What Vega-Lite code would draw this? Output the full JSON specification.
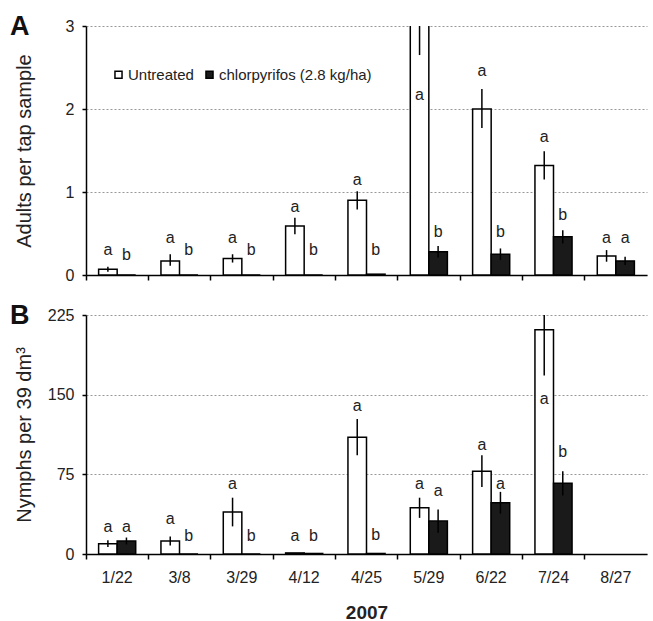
{
  "$schema": "https://vega.github.io/schema/vega-lite/v6.json",
  "padding": {"left": 10, "top": 13, "right": 6, "bottom": 4},
  "config": {
    "font": "Liberation Sans",
    "view": {"stroke": null},
    "concat": {"spacing": 19},
    "axis": {
      "domainColor": "black", "domainWidth": 1.5, "tickColor": "black", "tickWidth": 1.5,
      "labelColor": "#222", "titleColor": "#222", "labelFont": "Liberation Sans", "titleFont": "Liberation Sans"
    }
  },
  "resolve": {"legend": {"fill": "independent"}, "scale": {"y": "independent"}},
  "datasets": {
    "adults": [
      {"date": "1/22", "trt": "Untreated", "mean": 0.07, "lo": 0.04, "hi": 0.10, "letter": "a", "ly": 0.30},
      {"date": "1/22", "trt": "chlorpyrifos (2.8 kg/ha)", "mean": 0, "lo": 0, "hi": 0, "letter": "b", "ly": 0.24},
      {"date": "3/8", "trt": "Untreated", "mean": 0.17, "lo": 0.11, "hi": 0.25, "letter": "a", "ly": 0.45},
      {"date": "3/8", "trt": "chlorpyrifos (2.8 kg/ha)", "mean": 0, "lo": 0, "hi": 0, "letter": "b", "ly": 0.30},
      {"date": "3/29", "trt": "Untreated", "mean": 0.20, "lo": 0.15, "hi": 0.25, "letter": "a", "ly": 0.45},
      {"date": "3/29", "trt": "chlorpyrifos (2.8 kg/ha)", "mean": 0, "lo": 0, "hi": 0, "letter": "b", "ly": 0.30},
      {"date": "4/12", "trt": "Untreated", "mean": 0.59, "lo": 0.49, "hi": 0.69, "letter": "a", "ly": 0.82},
      {"date": "4/12", "trt": "chlorpyrifos (2.8 kg/ha)", "mean": 0, "lo": 0, "hi": 0, "letter": "b", "ly": 0.30},
      {"date": "4/25", "trt": "Untreated", "mean": 0.90, "lo": 0.79, "hi": 1.01, "letter": "a", "ly": 1.15},
      {"date": "4/25", "trt": "chlorpyrifos (2.8 kg/ha)", "mean": 0.01, "lo": 0.01, "hi": 0.01, "letter": "b", "ly": 0.30},
      {"date": "5/29", "trt": "Untreated", "mean": 3.6, "lo": 2.65, "hi": 4.55, "letter": "a", "ly": 2.17},
      {"date": "5/29", "trt": "chlorpyrifos (2.8 kg/ha)", "mean": 0.28, "lo": 0.21, "hi": 0.35, "letter": "b", "ly": 0.52},
      {"date": "6/22", "trt": "Untreated", "mean": 2.0, "lo": 1.77, "hi": 2.24, "letter": "a", "ly": 2.46},
      {"date": "6/22", "trt": "chlorpyrifos (2.8 kg/ha)", "mean": 0.25, "lo": 0.18, "hi": 0.32, "letter": "b", "ly": 0.52},
      {"date": "7/24", "trt": "Untreated", "mean": 1.32, "lo": 1.15, "hi": 1.49, "letter": "a", "ly": 1.66},
      {"date": "7/24", "trt": "chlorpyrifos (2.8 kg/ha)", "mean": 0.46, "lo": 0.38, "hi": 0.54, "letter": "b", "ly": 0.72},
      {"date": "8/27", "trt": "Untreated", "mean": 0.23, "lo": 0.16, "hi": 0.30, "letter": "a", "ly": 0.44},
      {"date": "8/27", "trt": "chlorpyrifos (2.8 kg/ha)", "mean": 0.17, "lo": 0.12, "hi": 0.22, "letter": "a", "ly": 0.44}
    ],
    "nymphs": [
      {"date": "1/22", "trt": "Untreated", "mean": 9.7, "lo": 6.5, "hi": 13, "letter": "a", "ly": 25.7},
      {"date": "1/22", "trt": "chlorpyrifos (2.8 kg/ha)", "mean": 12.2, "lo": 9, "hi": 15.5, "letter": "a", "ly": 25.7},
      {"date": "3/8", "trt": "Untreated", "mean": 12.2, "lo": 8, "hi": 16.5, "letter": "a", "ly": 33},
      {"date": "3/8", "trt": "chlorpyrifos (2.8 kg/ha)", "mean": 0, "lo": 0, "hi": 0, "letter": "b", "ly": 17},
      {"date": "3/29", "trt": "Untreated", "mean": 39.5, "lo": 26, "hi": 53, "letter": "a", "ly": 66},
      {"date": "3/29", "trt": "chlorpyrifos (2.8 kg/ha)", "mean": 0, "lo": 0, "hi": 0, "letter": "b", "ly": 17},
      {"date": "4/12", "trt": "Untreated", "mean": 1.0, "lo": 1.0, "hi": 1.0, "letter": "a", "ly": 17},
      {"date": "4/12", "trt": "chlorpyrifos (2.8 kg/ha)", "mean": 0.5, "lo": 0.5, "hi": 0.5, "letter": "b", "ly": 17},
      {"date": "4/25", "trt": "Untreated", "mean": 110, "lo": 93, "hi": 127, "letter": "a", "ly": 139},
      {"date": "4/25", "trt": "chlorpyrifos (2.8 kg/ha)", "mean": 0.5, "lo": 0.5, "hi": 0.5, "letter": "b", "ly": 17.6},
      {"date": "5/29", "trt": "Untreated", "mean": 43.6, "lo": 34, "hi": 53, "letter": "a", "ly": 66},
      {"date": "5/29", "trt": "chlorpyrifos (2.8 kg/ha)", "mean": 31, "lo": 20, "hi": 42, "letter": "a", "ly": 59},
      {"date": "6/22", "trt": "Untreated", "mean": 78, "lo": 63, "hi": 93, "letter": "a", "ly": 103},
      {"date": "6/22", "trt": "chlorpyrifos (2.8 kg/ha)", "mean": 48.3, "lo": 38, "hi": 58.5, "letter": "a", "ly": 66},
      {"date": "7/24", "trt": "Untreated", "mean": 211, "lo": 168, "hi": 254, "letter": "a", "ly": 146},
      {"date": "7/24", "trt": "chlorpyrifos (2.8 kg/ha)", "mean": 66.6, "lo": 55, "hi": 78, "letter": "b", "ly": 96}
    ]
  },
  "vconcat": [
    {
      "width": 561,
      "height": 249,
      "title": {"text": "A", "anchor": "start", "frame": "group", "fontSize": 27, "fontWeight": "bold", "color": "#111", "dx": -76, "offset": -11, "dy": 12},
      "data": {"name": "adults"},
      "encoding": {
        "x": {"field": "date", "type": "nominal",
          "scale": {"domain": ["1/22", "3/8", "3/29", "4/12", "4/25", "5/29", "6/22", "7/24", "8/27"], "paddingInner": 0, "paddingOuter": 0},
          "axis": {"title": null, "labels": false, "bandPosition": 0, "tickSize": 5, "grid": false}},
        "xOffset": {"field": "trt", "type": "nominal", "sort": ["Untreated", "chlorpyrifos (2.8 kg/ha)"],
          "scale": {"domain": ["Untreated", "chlorpyrifos (2.8 kg/ha)"], "paddingOuter": 0.68, "paddingInner": 0}}
      },
      "layer": [
        {
          "mark": {"type": "bar", "clip": true, "stroke": "black", "strokeWidth": 1.5},
          "encoding": {
            "y": {"field": "mean", "type": "quantitative",
              "scale": {"domain": [0, 3], "nice": false},
              "axis": {"title": "Adults per tap sample", "values": [0, 1, 2, 3], "format": "d", "tickSize": 4, "labelPadding": 8, "labelFontSize": 16, "titleFontSize": 20, "titleFontWeight": "normal", "titlePadding": 31, "grid": true, "gridDash": [2, 2], "gridColor": "#999", "gridWidth": 1}},
            "fill": {"field": "trt", "type": "nominal",
              "scale": {"domain": ["Untreated", "chlorpyrifos (2.8 kg/ha)"], "range": ["white", "#1a1a1a"]},
              "legend": {"title": null, "orient": "none", "legendX": 25, "legendY": 41, "direction": "horizontal", "symbolType": "square", "symbolSize": 50, "symbolStrokeColor": "black", "symbolStrokeWidth": 1.5, "labelFontSize": 15, "labelColor": "#222", "labelOffset": 2, "columnPadding": 8}}
          }
        },
        {
          "transform": [{"filter": "datum.hi > datum.lo"}],
          "mark": {"type": "rule", "clip": true, "strokeWidth": 1.5, "color": "black"},
          "encoding": {"y": {"field": "lo", "type": "quantitative"}, "y2": {"field": "hi"}}
        },
        {
          "mark": {"type": "text", "fontSize": 16, "baseline": "middle", "color": "#222"},
          "encoding": {"y": {"field": "ly", "type": "quantitative"}, "text": {"field": "letter"}}
        }
      ]
    },
    {
      "width": 561,
      "height": 239,
      "title": {"text": "B", "anchor": "start", "frame": "group", "fontSize": 27, "fontWeight": "bold", "color": "#111", "dx": -76, "offset": -11, "dy": 12},
      "data": {"name": "nymphs"},
      "encoding": {
        "x": {"field": "date", "type": "nominal",
          "scale": {"domain": ["1/22", "3/8", "3/29", "4/12", "4/25", "5/29", "6/22", "7/24", "8/27"], "paddingInner": 0, "paddingOuter": 0},
          "axis": {"title": "2007", "titleFontSize": 19, "titleFontWeight": "bold", "titlePadding": 18, "labelAngle": 0, "labelFontSize": 16, "labelPadding": 10, "bandPosition": 0, "tickSize": 5, "grid": false}},
        "xOffset": {"field": "trt", "type": "nominal", "sort": ["Untreated", "chlorpyrifos (2.8 kg/ha)"],
          "scale": {"domain": ["Untreated", "chlorpyrifos (2.8 kg/ha)"], "paddingOuter": 0.68, "paddingInner": 0}}
      },
      "layer": [
        {
          "mark": {"type": "bar", "clip": true, "stroke": "black", "strokeWidth": 1.5},
          "encoding": {
            "y": {"field": "mean", "type": "quantitative",
              "scale": {"domain": [0, 225], "nice": false},
              "axis": {"title": "Nymphs per 39 dm³", "values": [0, 75, 150, 225], "tickSize": 4, "labelPadding": 8, "labelFontSize": 16, "titleFontSize": 20, "titleFontWeight": "normal", "titlePadding": 13, "grid": true, "gridDash": [2, 2], "gridColor": "#999", "gridWidth": 1}},
            "fill": {"field": "trt", "type": "nominal",
              "scale": {"domain": ["Untreated", "chlorpyrifos (2.8 kg/ha)"], "range": ["white", "#1a1a1a"]},
              "legend": null}
          }
        },
        {
          "transform": [{"filter": "datum.hi > datum.lo"}],
          "mark": {"type": "rule", "clip": true, "strokeWidth": 1.5, "color": "black"},
          "encoding": {"y": {"field": "lo", "type": "quantitative"}, "y2": {"field": "hi"}}
        },
        {
          "mark": {"type": "text", "fontSize": 16, "baseline": "middle", "color": "#222"},
          "encoding": {"y": {"field": "ly", "type": "quantitative"}, "text": {"field": "letter"}}
        }
      ]
    }
  ]
}
